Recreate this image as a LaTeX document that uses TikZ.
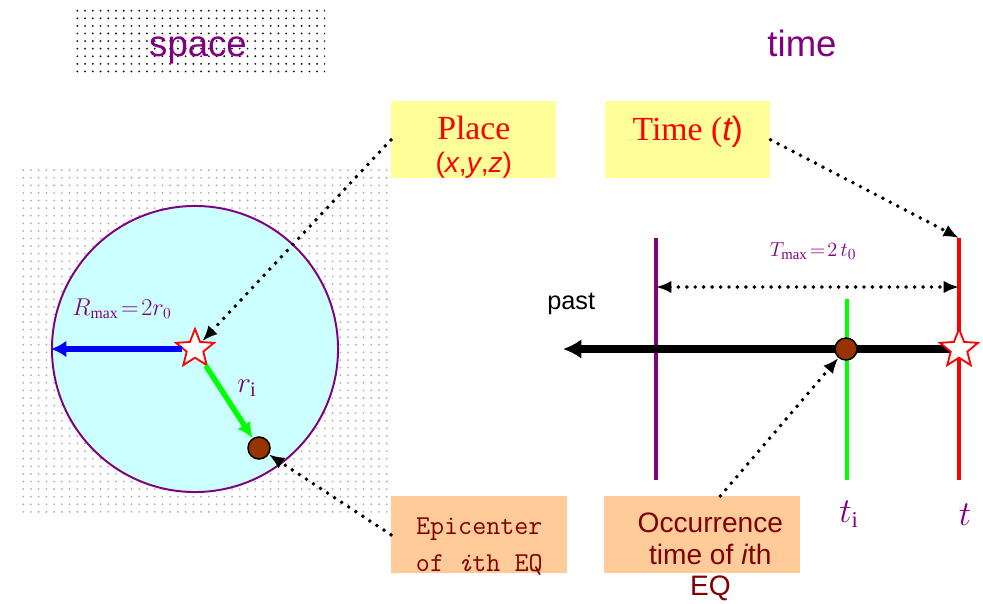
\documentclass[tikz,border=0pt]{standalone}
\usepackage{fontspec}
\setmainfont{Liberation Serif}
\setsansfont{Liberation Sans}
\usetikzlibrary{arrows.meta,shapes.geometric,positioning,calc,patterns.meta}

\definecolor{eqpurple}{RGB}{128,0,128}
\definecolor{eqcyan}{RGB}{204,255,255}
\definecolor{eqyellow}{RGB}{255,255,153}
\definecolor{eqorange}{RGB}{255,204,153}
\definecolor{eqbrown}{RGB}{153,51,0}
\definecolor{eqdark}{RGB}{128,0,0}
\definecolor{eqgreen}{RGB}{0,255,0}

\tikzdeclarepattern{
  name=grain,
  type=uncolored,
  bottom left={(-1pt,-1pt)},
  top right={(1pt,1pt)},
  tile size={(5.5pt,5.4pt)},
  code={\pgfpathcircle{\pgfpointorigin}{0.75pt}\pgfusepath{fill}}
}

\begin{document}
\begin{tikzpicture}[x=0.025cm, y=-0.025cm,
    title/.style={anchor=base, text=eqpurple, inner sep=0pt, font=\sffamily\fontsize{26}{30}\selectfont},
    lbl/.style={anchor=base, text=eqpurple, inner sep=0pt},
    ybox/.style={fill=eqyellow, anchor=north west, minimum width=4.125cm, minimum height=1.925cm, inner sep=0pt},
    obox/.style={fill=eqorange, anchor=north west, minimum height=1.925cm, inner sep=0pt},
    boxtxt/.style={anchor=north, align=center, inner sep=0pt},
    eqstar/.style={star, star points=5, star point ratio=2.3, draw=red, fill=white, line width=1.3pt, minimum size=1cm, inner sep=0pt},
    eqdot/.style={circle, fill=eqbrown, draw=black, line width=1.1pt, minimum size=0.55cm, inner sep=0pt},
    vline/.style={line width=2.7pt},
    dotarrow/.style={line width=2.8pt, dash pattern=on 0pt off 6pt, line cap=round, -{Latex[length=11pt,width=9pt]}},
    dotspan/.style={line width=2.8pt, dash pattern=on 0pt off 6pt, line cap=round, {Latex[length=11pt,width=9pt]}-{Latex[length=11pt,width=9pt]}}
]
\useasboundingbox (0,0) rectangle (983,603);

% dotted grounds
\fill[pattern={grain}, pattern color=black!90] (75,10) rectangle (325,75);
\fill[pattern={grain}, pattern color=black!30] (16,166) rectangle (388,515);

% titles
\node[title] (spacelbl) at (198,57) {space};
\node[title] (timelbl) at (802,57) {time};

% space side
\node[circle, draw=eqpurple, fill=eqcyan, line width=1.4pt, minimum size=7.15cm, inner sep=0pt] (zone) at (195,349) {};
\node[eqdot] (eq) at (259,448) {};
\node[eqstar] (epi) at (195,349) {};
\draw[blue, line width=3.8pt, -{Latex[length=11pt,width=12pt]}] (epi) -- (zone.west);
\draw[eqgreen, line width=3.8pt, -{Latex[length=11pt,width=11pt]}] (epi) -- (eq);
\node[lbl, font=\fontsize{16}{18}\selectfont] (rmax) at (122,315) {$R_{\max}\!=\!2r_0$};
\node[lbl, font=\fontsize{21}{24}\selectfont] (ri) at (247,392) {$r_{\mathrm{i}}$};

% time side
\coordinate (ptop) at (656,238);
\coordinate (pbot) at (656,480);
\coordinate (gtop) at (847,299);
\coordinate (gbot) at (847,480);
\coordinate (ntop) at (959,238);
\coordinate (nbot) at (959,480);
\coordinate (nowpos) at (959,349);
\coordinate (pastend) at (563,349);
\coordinate (spanL) at (656,287);
\coordinate (spanR) at (959,287);

\draw[eqpurple, vline] (ptop) -- (pbot);
\draw[eqgreen, vline] (gtop) -- (gbot);
\draw[red, vline] (ntop) -- (nbot);
\draw[line width=5pt, -{Latex[length=13pt,width=14pt]}] (nowpos) -- (pastend);
\node[eqdot] (eqt) at (846,349) {};
\node[eqstar] (now) at (nowpos) {};
\draw[dotspan] (spanL) -- (spanR);

\node[lbl, font=\fontsize{15}{17}\selectfont] (tmax) at (813,256) {$T_{\max}\!=\!2\,t_0$};
\node[anchor=base west, inner sep=0pt, font=\sffamily\fontsize{18}{20}\selectfont] (past) at (547,309) {past};
\node[lbl, font=\fontsize{23}{25}\selectfont] (ti) at (849,522) {$t_{\mathrm{i}}$};
\node[lbl, font=\fontsize{23}{25}\selectfont] (tnow) at (965,525) {$t$};

% boxes
\node[ybox] (place) at (391,101) {};
\node[boxtxt, text=red, font=\fontsize{24}{23.5}\selectfont] (placetxt) at ($(place.north)+(0,15)$)
  {Place\\{\sffamily\fontsize{20}{23.5}\selectfont(\textit{x},\textit{y},\textit{z})}};
\node[ybox] (timebox) at (605,101) {};
\node[boxtxt, text=red, font=\fontsize{24}{23.5}\selectfont] (timetxt) at ($(timebox.north)+(0,15)$)
  {Time ({\sffamily\itshape t}{\sffamily)}};
\node[obox, minimum width=4.4cm] (epibox) at (391,496) {};
\node[boxtxt, text=eqdark, font=\ttfamily\fontsize{19.4}{26.3}\selectfont] (epitxt) at ($(epibox.north)+(0,22)$)
  {Epicenter\\of \textit{i}th EQ};
\node[obox, minimum width=4.9cm] (occbox) at (604,496) {};
\node[boxtxt, text=eqdark, font=\sffamily\fontsize{20}{22.4}\selectfont] (occtxt) at ($(occbox.north)+(8,17)$)
  {Occurrence\\time of \textit{i}th\\EQ};

% dotted pointers
\draw[dotarrow] (place.west) -- (epi);
\draw[dotarrow] (timebox.east) -- (ntop);
\draw[dotarrow] (epibox.west) -- (eq);
\draw[dotarrow] ($(occbox.north)+(18,0)$) -- (eqt);
\end{tikzpicture}
\end{document}
